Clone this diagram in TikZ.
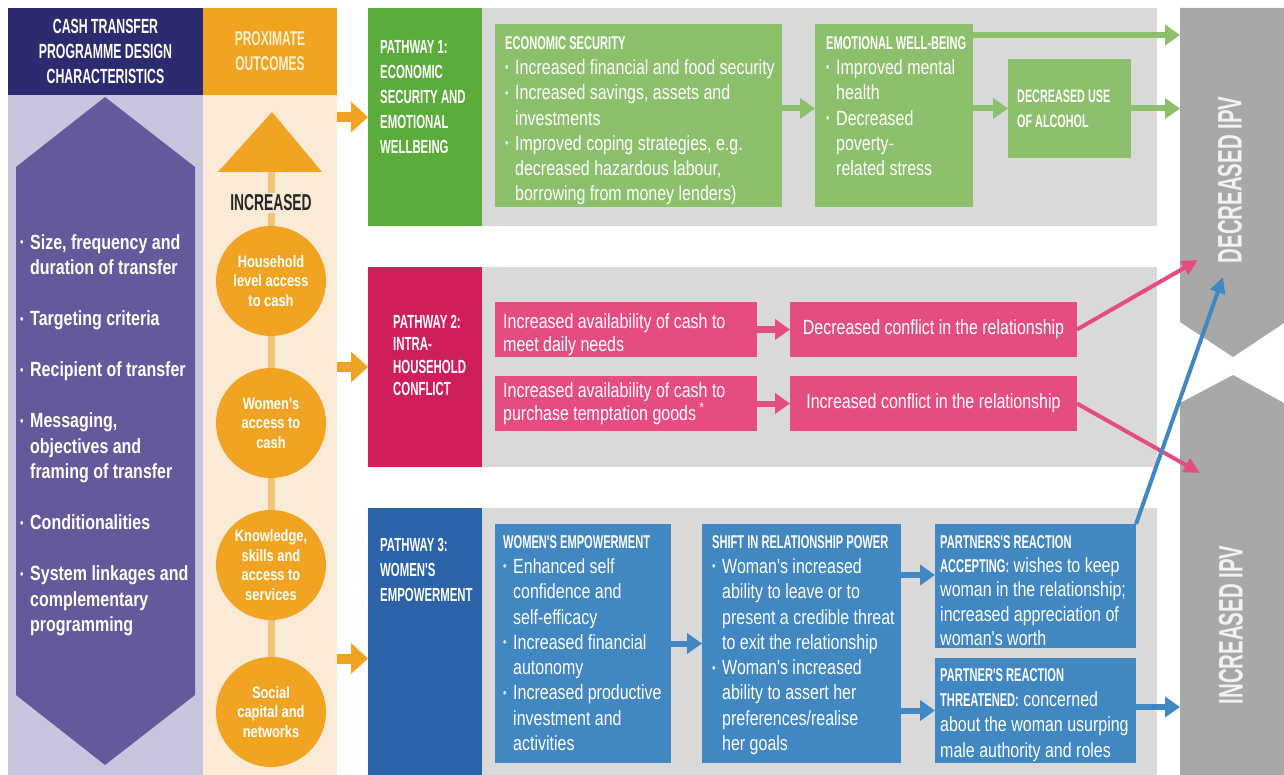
\documentclass[tikz,border=0pt]{standalone}
\usepackage{fontspec}
\newfontfamily\bodyfont{Liberation Sans}[FakeStretch=0.78]
\newfontfamily\headfont{Liberation Sans}[FakeStretch=0.6]
\usetikzlibrary{arrows.meta}

\definecolor{navy}{RGB}{44,43,111}
\definecolor{lav}{RGB}{200,198,223}
\definecolor{purp}{RGB}{99,90,155}
\definecolor{orng}{RGB}{241,164,33}
\definecolor{peach}{RGB}{251,234,213}
\definecolor{stemc}{RGB}{243,196,122}
\definecolor{cream}{RGB}{253,240,208}
\definecolor{dgreen}{RGB}{92,172,60}
\definecolor{lgreen}{RGB}{141,192,108}
\definecolor{pgray}{RGB}{217,217,217}
\definecolor{crim}{RGB}{208,30,92}
\definecolor{rose}{RGB}{230,77,127}
\definecolor{dblue}{RGB}{43,98,168}
\definecolor{lblue}{RGB}{65,135,193}
\definecolor{ipvg}{RGB}{169,168,168}

\newcommand\bul{\makebox[10pt][l]{\raisebox{2.5pt}{\fontsize{12.5}{12.5}\selectfont•}}}
\newcommand\indt{\hspace*{10pt}}
\newcommand\boxhead{\headfont\bfseries\fontsize{18.5}{25.3}\selectfont}

\tikzset{
  areabox/.style={inner sep=0, outer sep=0, anchor=north west},
  bodytxt/.style={inner sep=0, anchor=north west, align=left, text=white,
    font=\bodyfont\fontsize{20.5}{25.3}\selectfont},
  pwtxt/.style={inner sep=0, anchor=north west, align=left, text=white,
    font=\headfont\bfseries\fontsize{19}{25}\selectfont},
  circ/.style={circle, fill=orng, minimum size=110, inner sep=0, align=center,
    text=white, font=\bodyfont\bfseries\fontsize{16.5}{19.5}\selectfont},
  oarrow/.style={draw=orng, line width=10pt, -{Triangle[length=17pt,width=30pt]}},
  garrow/.style={draw=lgreen, line width=6pt, -{Triangle[length=15pt,width=20pt]}},
  parrow/.style={draw=rose, line width=6pt, -{Triangle[length=15pt,width=20pt]}},
  barrow/.style={draw=lblue, line width=6pt, -{Triangle[length=15pt,width=20pt]}},
  longp/.style={draw=rose, line width=4pt, -{Triangle[length=16pt,width=15pt]}},
  longb/.style={draw=lblue, line width=4pt, -{Triangle[length=16pt,width=15pt]}},
}

\begin{document}
\begin{tikzpicture}[x=1pt, y=-1pt]
\useasboundingbox (0,0) rectangle (1284,775);

% Drawing column backgrounds
\node (cth) [areabox, fill=navy, minimum width=195, minimum height=87] at (8,8) {};%
\node (ctb) [areabox, fill=lav, minimum width=195, minimum height=680] at (8,95) {};%
\node (poh) [areabox, fill=orng, minimum width=134, minimum height=87] at (203,8) {};%
\node (prox) [areabox, fill=peach, minimum width=134, minimum height=680] at (203,95) {};%

% Drawing design arrow
\fill [purp] (105,97) -- (195,167) -- (195,695) -- (105,765) -- (16,695) -- (16,167) -- cycle;%

% Marking column headers
\node (cth-t) [inner sep=0, align=center, text=white, font=\headfont\bfseries\fontsize{20.5}{25}\selectfont]
  at (cth.center) {CASH TRANSFER\\PROGRAMME DESIGN\\CHARACTERISTICS};%
\node (poh-t) [inner sep=0, align=center, text=cream, font=\headfont\bfseries\fontsize{20}{25}\selectfont]
  at (poh.center) {PROXIMATE\\OUTCOMES};%

% Marking design characteristics
\node (ctb-t) [bodytxt, font=\bodyfont\bfseries\fontsize{20.5}{25.5}\selectfont] at (20,234) {%
  \bul Size, frequency and\\
  \indt duration of transfer\\[25.5pt]
  \bul Targeting criteria\\[25.5pt]
  \bul Recipient of transfer\\[25.5pt]
  \bul Messaging,\\
  \indt objectives and\\
  \indt framing of transfer\\[25.5pt]
  \bul Conditionalities\\[25.5pt]
  \bul System linkages and\\
  \indt complementary\\
  \indt programming};%

% Drawing increase arrow and stem
\fill [orng] (272,112) -- (322,172) -- (218,172) -- cycle;%
\coordinate (tri) at (271,172);%
\coordinate (stemend) at (271,712);%
\draw [stemc, line width=7pt] (tri) -- (stemend);%
\node (incr) [fill=peach, inner sep=2pt, text=black!85, font=\headfont\bfseries\fontsize{23}{25}\selectfont]
  at (271,203) {INCREASED};%

% Marking proximate outcomes
\node (hh) [circ] at (271,281) {Household\\level access\\to cash};%
\node (wac) [circ] at (271,423) {Women's\\access to\\cash};%
\node (ksa) [circ] at (271,565) {Knowledge,\\skills and\\access to\\services};%
\node (scn) [circ] at (stemend) {Social\\capital and\\networks};%

% Drawing pathway blocks
\node (pw1) [areabox, fill=dgreen, minimum width=114, minimum height=218] at (368,8) {};%
\node (g1) [areabox, fill=pgray, minimum width=675, minimum height=218] at (482,8) {};%
\node (pw2) [areabox, fill=crim, minimum width=114, minimum height=200] at (368,267) {};%
\node (g2) [areabox, fill=pgray, minimum width=675, minimum height=200] at (482,267) {};%
\node (pw3) [areabox, fill=dblue, minimum width=114, minimum height=267] at (368,508) {};%
\node (g3) [areabox, fill=pgray, minimum width=675, minimum height=267] at (482,508) {};%

\node (pw1-t) [pwtxt] at (380,40) {PATHWAY 1:\\ECONOMIC\\SECURITY AND\\EMOTIONAL\\WELLBEING};%
\node (pw2-t) [pwtxt, font=\headfont\bfseries\fontsize{19}{22.5}\selectfont] at (393,315)
  {PATHWAY 2:\\INTRA-\\HOUSEHOLD\\CONFLICT};%
\node (pw3-t) [pwtxt] at (380,538) {PATHWAY 3:\\WOMEN'S\\EMPOWERMENT};%

% Drawing pathway 1 boxes
\node (econ) [areabox, fill=lgreen, minimum width=287, minimum height=183] at (495,24) {};%
\node (emo) [areabox, fill=lgreen, minimum width=158, minimum height=183] at (815,24) {};%
\node (alc) [areabox, fill=lgreen, minimum width=123, minimum height=99] at (1008,59) {};%

\node (econ-t) [bodytxt] at (505,36) {{\boxhead ECONOMIC SECURITY}\\
  \bul Increased financial and food security\\
  \bul Increased savings, assets and\\
  \indt investments\\
  \bul Improved coping strategies, e.g.\\
  \indt decreased hazardous labour,\\
  \indt borrowing from money lenders)};%
\node (emo-t) [bodytxt] at (826,36) {{\boxhead EMOTIONAL WELL-BEING}\\
  \bul Improved mental\\
  \indt health\\
  \bul Decreased\\
  \indt poverty-\\
  \indt related stress};%
\node (alc-t) [bodytxt, font=\headfont\bfseries\fontsize{18}{25}\selectfont] at (1017,90)
  {DECREASED USE\\OF ALCOHOL};%

% Drawing pathway 2 boxes
\node (a1) [areabox, fill=rose, minimum width=262, minimum height=55] at (495,302) {};%
\node (a2) [areabox, fill=rose, minimum width=262, minimum height=55] at (495,376) {};%
\node (b1) [areabox, fill=rose, minimum width=287, minimum height=55] at (790,302) {};%
\node (b2) [areabox, fill=rose, minimum width=287, minimum height=55] at (790,376) {};%

\node (a1-t) [bodytxt, font=\bodyfont\fontsize{20.5}{23.3}\selectfont] at (503,313)
  {Increased availability of cash to\\meet daily needs};%
\node (a2-t) [bodytxt, font=\bodyfont\fontsize{20.5}{23.3}\selectfont] at (503,382)
  {Increased availability of cash to\\purchase temptation goods\,\textsuperscript{*}};%
\node (b1-t) [bodytxt, anchor=center] at (b1.center) {Decreased conflict in the relationship};%
\node (b2-t) [bodytxt, anchor=center] at (b2.center) {Increased conflict in the relationship};%

% Drawing pathway 3 boxes
\node (we) [areabox, fill=lblue, minimum width=176, minimum height=239] at (495,524) {};%
\node (sh) [areabox, fill=lblue, minimum width=199, minimum height=239] at (702,524) {};%
\node (acc) [areabox, fill=lblue, minimum width=201, minimum height=124] at (935,524) {};%
\node (thr) [areabox, fill=lblue, minimum width=201, minimum height=105] at (935,658) {};%

\node (we-t) [bodytxt] at (503,535) {{\boxhead WOMEN'S EMPOWERMENT}\\
  \bul Enhanced self\\
  \indt confidence and\\
  \indt self-efficacy\\
  \bul Increased financial\\
  \indt autonomy\\
  \bul Increased productive\\
  \indt investment and\\
  \indt activities};%
\node (sh-t) [bodytxt] at (712,535) {{\boxhead SHIFT IN RELATIONSHIP POWER}\\
  \bul Woman's increased\\
  \indt ability to leave or to\\
  \indt present a credible threat\\
  \indt to exit the relationship\\
  \bul Woman's increased\\
  \indt ability to assert her\\
  \indt preferences/realise\\
  \indt her goals};%
\node (acc-t) [bodytxt, font=\bodyfont\fontsize{20.5}{24.3}\selectfont] at (940,535) {{\boxhead PARTNERS'S REACTION}\\
  {\boxhead ACCEPTING:} wishes to keep\\
  woman in the relationship;\\
  increased appreciation of\\
  woman's worth};%
\node (thr-t) [bodytxt] at (940,668) {{\boxhead PARTNER'S REACTION}\\
  {\boxhead THREATENED:} concerned\\
  about the woman usurping\\
  male authority and roles};%

% Drawing IPV outcomes
\fill [ipvg] (1180,8) -- (1284,8) -- (1284,323) -- (1233,357) -- (1180,322) -- cycle;%
\fill [ipvg] (1180,403) -- (1233,375) -- (1284,403) -- (1284,775) -- (1180,775) -- cycle;%
\node (dec) [rotate=90, inner sep=0, text=white!95!black, font=\headfont\bfseries\fontsize{34}{36}\selectfont]
  at (1230,180) {DECREASED IPV};%
\node (inc) [rotate=90, inner sep=0, text=white!95!black, font=\headfont\bfseries\fontsize{34}{36}\selectfont]
  at (1231,625) {INCREASED IPV};%
\coordinate (dtop) at (1180,35);%
\coordinate (dpk) at (1198,260);%
\coordinate (dbl) at (1223,277);%
\coordinate (ipk) at (1200,473);%
\coordinate (iedge) at (1180,707);%

% Drawing proximate outcome arrows
\coordinate (p3in) at ([yshift=-17pt]pw3.west);%
\draw [oarrow] (prox.east |- pw1.west) -- (pw1.west);%
\draw [oarrow] (prox.east |- pw2.west) -- (pw2.west);%
\draw [oarrow] (prox.east |- p3in) -- (p3in);%

% Drawing pathway 1 arrows
\draw [garrow] (econ.east |- alc.west) -- (emo.west |- alc.west);%
\draw [garrow] (emo.east |- alc.west) -- (alc.west);%
\draw [garrow] (alc.east) -- (alc.east -| dtop);%
\draw [garrow] (emo.east |- dtop) -- (dtop);%

% Drawing pathway 2 arrows
\draw [parrow] (a1.east) -- (b1.west);%
\draw [parrow] (a2.east) -- (b2.west);%
\draw [longp] (b1.east) -- (dpk);%
\draw [longp] (b2.east) -- (ipk);%

% Drawing pathway 3 arrows
\coordinate (accin) at ([yshift=11pt]acc.west);%
\draw [barrow] (we.east) -- (sh.west);%
\draw [barrow] (sh.east |- accin) -- (accin);%
\draw [barrow] (sh.east |- thr.west) -- (thr.west);%
\draw [barrow] (thr.east |- iedge) -- (iedge);%
\draw [longb] (acc.north east) -- (dbl);%
\end{tikzpicture}
\end{document}
